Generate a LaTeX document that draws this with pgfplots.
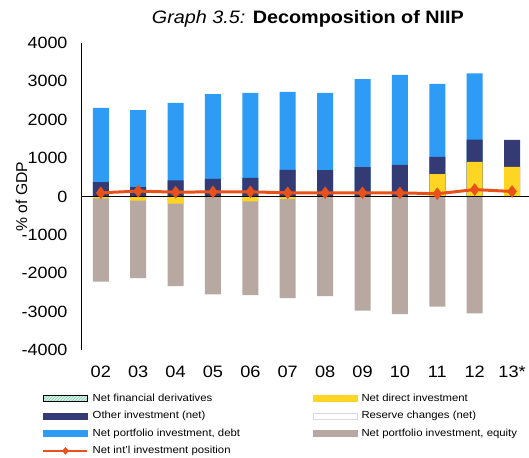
\documentclass[border=0pt]{standalone}
\usepackage{fontspec}
\setmainfont{Liberation Sans}[FakeStretch=1.1]
\newfontfamily\plainfont{Liberation Sans}
\usepackage{pgfplots}
\pgfplotsset{compat=1.18}
\usetikzlibrary{patterns}

\definecolor{debtblue}{RGB}{46,155,245}
\definecolor{othernavy}{RGB}{52,58,115}
\definecolor{directyellow}{RGB}{255,213,35}
\definecolor{equitygray}{RGB}{183,169,162}
\definecolor{niip}{RGB}{232,82,26}
\definecolor{hatchlight}{RGB}{215,240,230}
\definecolor{hatchdark}{RGB}{110,200,165}

\begin{document}
\begin{tikzpicture}
\begin{axis}[
  at={(0,0)}, anchor=south west,
  scale only axis, width=448pt, height=307pt,
  xmin=-0.53, xmax=11.45, ymin=-4000, ymax=4000,
  axis y line=left, axis x line=bottom, axis line style={-, line width=0.8pt},
  x axis line style={draw=none},
  ytick={-4000,-3000,...,4000},
  xtick={0,...,11},
  xticklabels={02,03,04,05,06,07,08,09,10,11,12,13*},
  major tick length=0pt,
  scaled y ticks=false,
  yticklabel style={font=\fontsize{16.3}{19}\selectfont, xshift=-10pt},
  xticklabel style={font=\fontsize{16.5}{19}\selectfont, yshift=-13pt},
  /pgf/number format/assume math mode=true,
  /pgf/number format/1000 sep={},
  ylabel={\% of GDP},
  ylabel style={at={(axis description cs:-0.133,0.5)}, anchor=center,
    font=\plainfont\fontsize{15.7}{19}\selectfont},
  title={\textit{Graph 3.5:} \textbf{Decomposition of NIIP}},
  title style={font=\fontsize{18}{21}\selectfont, at={(axis description cs:0.5,1)},
    anchor=base, yshift=13pt, xshift=3pt},
  ybar, bar width=16pt, bar shift=0pt,
  legend columns=2, legend cell align=left,
  legend style={at={(axis description cs:-0.087,-0.137)}, anchor=north west,
    draw=none, fill=none, inner sep=0pt, row sep=5pt,
    font=\fontsize{10.3}{12}\selectfont,
    nodes={inner sep=1pt, text height=8pt, text depth=2.5pt},
    /tikz/column 1/.style={column sep=3pt},
    /tikz/column 2/.style={column sep=72pt},
    /tikz/column 3/.style={column sep=3pt}},
]
% positive side, cumulative tops (debt on top of other on top of direct)
\addplot[fill=debtblue, draw=none, forget plot] coordinates {
  (0,2310)(1,2250)(2,2440)(3,2670)(4,2700)(5,2725)(6,2700)(7,3055)(8,3170)(9,2935)(10,3210)};
\addplot[fill=othernavy, draw=none, forget plot] coordinates {
  (0,372)(1,243)(2,417)(3,460)(4,486)(5,694)(6,686)(7,764)(8,825)(9,1033)(10,1484)(11,1475)};
\addplot[fill=directyellow, draw=none, forget plot] coordinates {
  (9,580)(10,903)(11,773)};
% negative side, cumulative bottoms
\addplot[fill=equitygray, draw=none, forget plot] coordinates {
  (0,-2220)(1,-2130)(2,-2335)(3,-2550)(4,-2570)(5,-2650)(6,-2600)(7,-2977)(8,-3070)(9,-2870)(10,-3050)};
\addplot[fill=directyellow, draw=none, forget plot] coordinates {
  (0,-50)(1,-110)(2,-190)(3,-20)(4,-130)(5,-60)(6,-20)(7,-15)(8,-15)};
% zero line
\addplot[sharp plot, black, line width=0.8pt, forget plot] coordinates {(-0.53,0)(11.45,0)};
% NIIP
\addplot[sharp plot, niip, line width=3pt, mark=diamond*, mark size=6pt,
  mark options={fill=niip, draw=niip, line width=0.4pt}, forget plot] coordinates {
  (0,95)(1,140)(2,112)(3,120)(4,120)(5,95)(6,95)(7,95)(8,95)(9,70)(10,180)(11,130)};

\addlegendimage{legend image code/.code={
  \fill[hatchlight] (0pt,-3pt) rectangle (44pt,3pt);
  \fill[pattern=north east lines, pattern color=hatchdark] (0pt,-3pt) rectangle (44pt,3pt);}}
\addlegendentry{Net financial derivatives}
\addlegendimage{legend image code/.code={\fill[directyellow] (0pt,-3pt) rectangle (44pt,3pt);}}
\addlegendentry{Net direct investment}
\addlegendimage{legend image code/.code={\fill[othernavy] (0pt,-3pt) rectangle (44pt,3pt);}}
\addlegendentry{Other investment (net)}
\addlegendimage{legend image code/.code={\draw[fill=white, draw=black!15, line width=0.5pt] (0pt,-3pt) rectangle (44pt,3pt);}}
\addlegendentry{Reserve changes (net)}
\addlegendimage{legend image code/.code={\fill[debtblue] (0pt,-3pt) rectangle (44pt,3pt);}}
\addlegendentry{Net portfolio investment, debt}
\addlegendimage{legend image code/.code={\fill[equitygray] (0pt,-3pt) rectangle (44pt,3pt);}}
\addlegendentry{Net portfolio investment, equity}
\addlegendimage{legend image code/.code={
  \draw[niip, line width=2.5pt] (0pt,0pt) -- (44pt,0pt);
  \fill[niip] (22pt,3.5pt) -- (25pt,0pt) -- (22pt,-3.5pt) -- (19pt,0pt) -- cycle;}}
\addlegendentry{Net int'l investment position}
\end{axis}
\path (-81pt,-108pt) rectangle (448pt,350pt);
\end{tikzpicture}
\end{document}
